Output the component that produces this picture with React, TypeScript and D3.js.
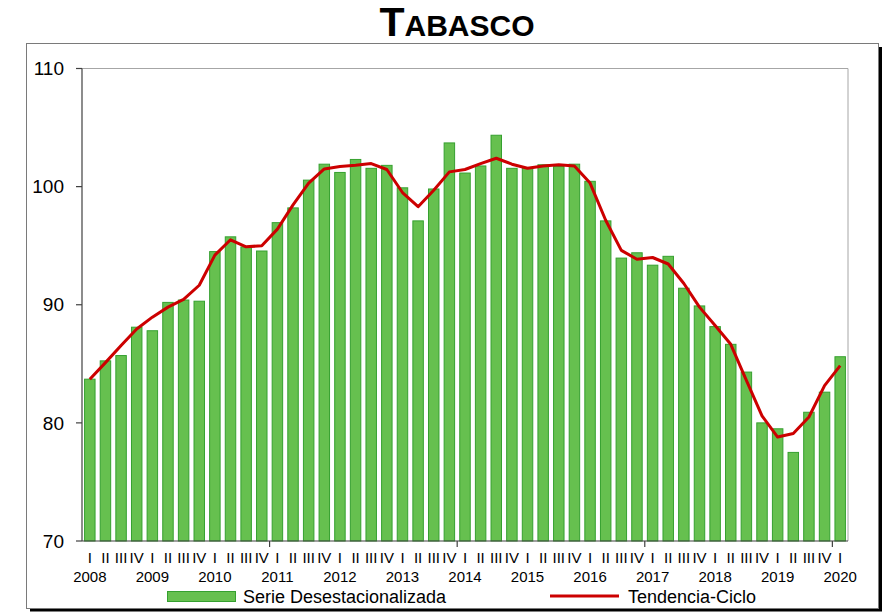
import React from "react";
import * as d3 from "d3";

const years = ["2008","2009","2010","2011","2012","2013","2014","2015","2016","2017","2018","2019","2020"];
const quarterNames = ["I", "II", "III", "IV"];
const serie = [83.7, 85.25, 85.7, 88.1, 87.8, 90.2, 90.4, 90.3, 94.5, 95.75,
  94.9, 94.55, 96.95, 98.2, 100.55, 101.9, 101.2, 102.3, 101.55, 101.8,
  99.9, 97.1, 99.8, 103.7, 101.15, 101.75, 104.35, 101.55, 101.55, 101.85,
  101.7, 101.9, 100.45, 97.1, 93.95, 94.4, 93.35, 94.1, 91.4, 89.9,
  88.15, 86.65, 84.3, 80.0, 79.5, 77.5, 80.9, 82.6, 85.6];
const tendencia = [83.7, 85.1, 86.55, 87.95, 88.95, 89.8, 90.45, 91.65, 94.2, 95.5,
  94.9, 95.0, 96.4, 98.45, 100.3, 101.5, 101.7, 101.8, 101.95, 101.45,
  99.5, 98.3, 99.7, 101.25, 101.45, 101.95, 102.4, 101.9, 101.55, 101.75,
  101.85, 101.75, 100.3, 97.15, 94.6, 93.85, 94.0, 93.45, 91.8, 89.8,
  88.25, 86.65, 83.6, 80.6, 78.8, 79.1, 80.5, 83.15, 84.85];
const yTicks = [70, 80, 90, 100, 110];

const W = 883, H = 612;
const L = 82, R = 848, T = 68.5, B = 541;
const FONT = "'Liberation Sans', Arial, sans-serif";
const GREEN = "#66C04F";
const GREEN_DARK = "#35A02F";
const RED = "#CC0000";

export default function App() {
  const idx = serie.map((_, i) => i);
  const x = d3.scaleBand<number>().domain(idx).range([L, R]).paddingInner(0.33).paddingOuter(0.165);
  const y = d3.scaleLinear().domain([70, 110]).range([B, T]);
  const step = x.step();
  const cx = (i: number) => (x(i) as number) + x.bandwidth() / 2;
  const line = d3.line<number>().x((_, i) => cx(i)).y((d) => y(d));

  const yearTicks = [12, 24, 36, 48];

  return (
    <svg width={W} height={H} style={{ position: "absolute", left: 0, top: 0, background: "#fff" }} fontFamily={FONT}>
      <rect x={0} y={0} width={W} height={H} fill="#fff" />
      {/* title */}
      <text x={457} y={36} textAnchor="middle" fontWeight="bold" fill="#000">
        <tspan fontSize={41}>T</tspan>
        <tspan fontSize={30}>ABASCO</tspan>
      </text>
      {/* outer frame */}
      <rect x={30} y={608.5} width={852} height={3} fill="#000" />
      <rect x={878.5} y={47} width={3.5} height={564} fill="#000" />
      <rect x={26.5} y={43.5} width={852} height={565} fill="none" stroke="#7a7a7a" strokeWidth={1} />

      {/* plot border top/right */}
      <line x1={L} x2={R} y1={T} y2={T} stroke="#a6a6a6" />
      <line x1={R} x2={R} y1={T} y2={B} stroke="#a6a6a6" />

      {/* bars */}
      {serie.map((v, i) => (
        <rect key={i} x={x(i)} y={y(v)} width={x.bandwidth()} height={B - y(v)}
          fill={GREEN} stroke={GREEN_DARK} strokeWidth={1} />
      ))}

      {/* trend */}
      <path d={line(tendencia) || ""} fill="none" stroke={RED} strokeWidth={3} strokeLinejoin="round" />

      {/* y axis */}
      <line x1={L} x2={L} y1={T} y2={B} stroke="#404040" strokeWidth={1.2} />
      {yTicks.map((t) => (
        <g key={t}>
          <line x1={L - 6} x2={L} y1={y(t)} y2={y(t)} stroke="#404040" strokeWidth={1.2} />
          <text x={64} y={y(t)} dy="0.35em" textAnchor="end" fontSize={19} fill="#000">{t}</text>
        </g>
      ))}

      {/* x axis */}
      <line x1={L} x2={R} y1={B} y2={B} stroke="#404040" strokeWidth={1.2} />
      {yearTicks.map((k) => (
        <line key={k} x1={L + k * step} x2={L + k * step} y1={B} y2={B + 6} stroke="#404040" strokeWidth={1.2} />
      ))}
      {idx.map((i) => (
        <text key={"q" + i} x={cx(i)} y={563} textAnchor="middle" fontSize={15} fill="#000">
          {quarterNames[i % 4]}
        </text>
      ))}
      {idx.filter((i) => i % 4 === 0).map((i) => (
        <text key={"y" + i} x={cx(i)} y={582} textAnchor="middle" fontSize={15} fill="#000">
          {years[i / 4]}
        </text>
      ))}

      {/* legend */}
      <rect x={167.5} y={591.5} width={68} height={10} fill={GREEN} stroke={GREEN_DARK} />
      <text x={243} y={603} fontSize={18} fill="#000">Serie Desestacionalizada</text>
      <line x1={550} x2={619} y1={596} y2={596} stroke={RED} strokeWidth={3} />
      <text x={628} y={603} fontSize={18} fill="#000">Tendencia-Ciclo</text>
    </svg>
  );
}
